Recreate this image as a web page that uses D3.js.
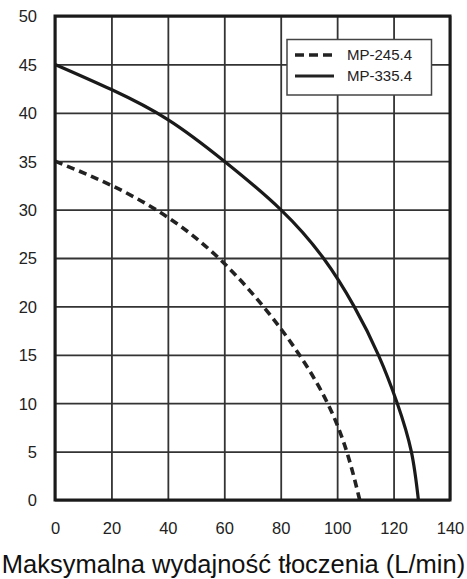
<!DOCTYPE html>
<html>
<head>
<meta charset="utf-8">
<script src="https://cdn.jsdelivr.net/npm/d3@7"></script>
<style>
  html, body { margin: 0; padding: 0; background: #fff; }
  svg { display: block; font-family: "Liberation Sans", Arial, sans-serif; }
</style>
</head>
<body>
<svg id="chart" width="467" height="579"></svg>
<script>
// ---- data ----
const xTicks = [0, 20, 40, 60, 80, 100, 120, 140];
const yTicks = [0, 5, 10, 15, 20, 25, 30, 35, 40, 45, 50];
const seriesNames = ["MP-245.4", "MP-335.4"];
const mp245Flow = [0, 20, 40, 58, 73.8, 86.6, 96.6, 103.4, 108];
const mp245Head = [35, 32.5, 29.2, 25, 20, 15, 10, 5, 0];
const mp335Flow = [0, 20, 40, 60, 80, 95.1, 106, 114.6, 121.3, 126.3, 128.8];
const mp335Head = [45, 42.4, 39.3, 35, 30, 25, 20, 15, 10, 5, 0];
const xTitle = "Maksymalna wydajność tłoczenia (L/min)";

// ---- layout ----
const svg = d3.select("#chart");
const L = 55, R = 450, T = 16, B = 500;
const x = d3.scaleLinear().domain([0, 140]).range([L, R]);
const y = d3.scaleLinear().domain([0, 50]).range([B, T]);

// grid
const gx = svg.append("g").attr("transform", `translate(0,${B})`)
  .call(d3.axisBottom(x).tickValues(xTicks).tickSize(-(B - T)).tickFormat(""));
const gy = svg.append("g").attr("transform", `translate(${L},0)`)
  .call(d3.axisLeft(y).tickValues(yTicks).tickSize(-(R - L)).tickFormat(""));
[gx, gy].forEach(g => {
  g.select(".domain").remove();
  g.selectAll(".tick line").attr("stroke", "#333").attr("stroke-width", 1.8);
});

// tick labels
const lx = svg.append("g").attr("transform", `translate(0,${B})`)
  .call(d3.axisBottom(x).tickValues(xTicks).tickSize(0).tickPadding(0));
lx.select(".domain").remove();
lx.selectAll(".tick text")
  .attr("y", 34).attr("dy", null)
  .attr("font-size", 16.5).attr("fill", "#222")
  .attr("font-family", "'Liberation Sans', Arial, sans-serif");

const ly = svg.append("g").attr("transform", `translate(${L},0)`)
  .call(d3.axisLeft(y).tickValues(yTicks).tickSize(0).tickPadding(0));
ly.select(".domain").remove();
ly.selectAll(".tick text")
  .attr("x", -18).attr("dy", "0.36em")
  .attr("font-size", 16.5).attr("fill", "#222")
  .attr("font-family", "'Liberation Sans', Arial, sans-serif");

// curves
const line = d3.line().x(d => x(d[0])).y(d => y(d[1])).curve(d3.curveNatural);
const d245 = mp245Flow.map((f, i) => [f, mp245Head[i]]);
const d335 = mp335Flow.map((f, i) => [f, mp335Head[i]]);

svg.append("path").datum(d245).attr("d", line)
  .attr("fill", "none").attr("stroke", "#222").attr("stroke-width", 3.6)
  .attr("stroke-dasharray", "8,5");
svg.append("path").datum(d335).attr("d", line)
  .attr("fill", "none").attr("stroke", "#1a1a1a").attr("stroke-width", 3.2);

// frame
svg.append("rect").attr("x", L).attr("y", T).attr("width", R - L).attr("height", B - T)
  .attr("fill", "none").attr("stroke", "#1a1a1a").attr("stroke-width", 3);

// legend
const lg = svg.append("g");
lg.append("rect").attr("x", 287).attr("y", 39.5).attr("width", 144.5).attr("height", 55.5)
  .attr("fill", "#fff").attr("stroke", "#444").attr("stroke-width", 1.5);
const legRows = [
  { name: seriesNames[0], dash: "9,5", w: 3.6, yy: 55 },
  { name: seriesNames[1], dash: null, w: 3.2, yy: 76 }
];
legRows.forEach(r => {
  lg.append("line").attr("x1", 295).attr("x2", 334).attr("y1", r.yy).attr("y2", r.yy)
    .attr("stroke", "#222").attr("stroke-width", r.w)
    .attr("stroke-dasharray", r.dash);
  lg.append("text").attr("x", 347).attr("y", r.yy).attr("dy", "0.36em")
    .attr("font-size", 15).attr("fill", "#222").text(r.name);
});

// axis title
svg.append("text").attr("x", 233.5).attr("y", 573).attr("text-anchor", "middle")
  .attr("font-size", 25.5).attr("fill", "#111").text(xTitle);
</script>
</body>
</html>
